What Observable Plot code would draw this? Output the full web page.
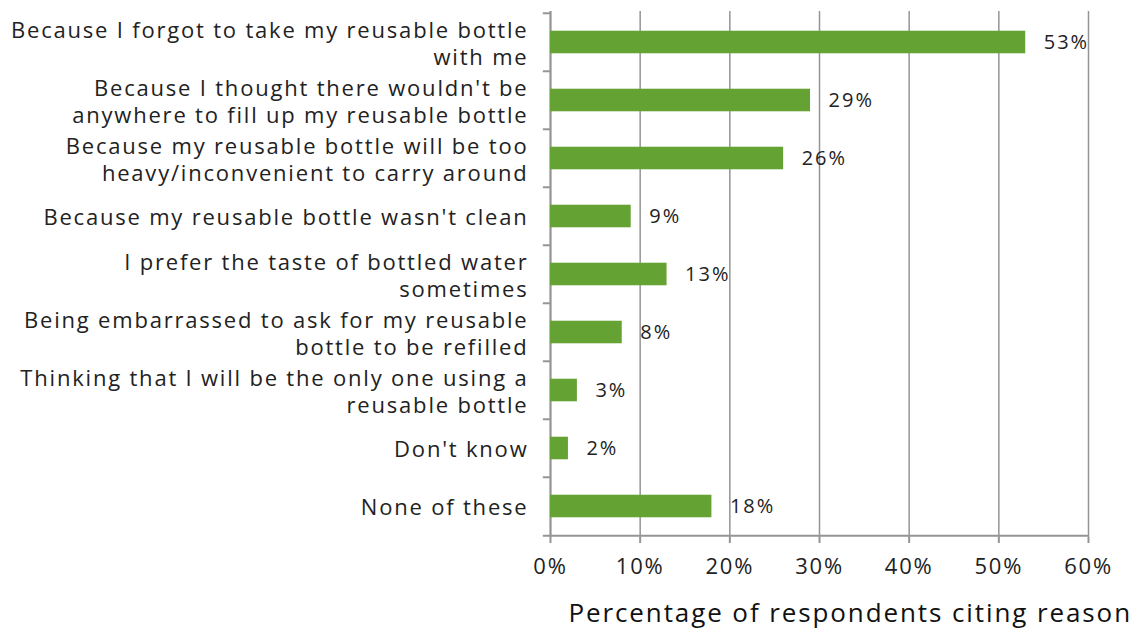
<!DOCTYPE html>
<html>
<head>
<meta charset="utf-8">
<script src="https://cdn.jsdelivr.net/npm/d3@7"></script>
<script src="https://cdn.jsdelivr.net/npm/@observablehq/plot@0.6"></script>
<style>
  html, body { margin: 0; padding: 0; background: #fff; }
  #chart { width: 1134px; height: 630px; font-family: "Open Sans", sans-serif; }
  #chart svg text { letter-spacing: 1.8px; }
  #chart svg g.vals text { letter-spacing: 2px; }
  #xtitle { font-size: 26px; line-height: 32px; height: 32px; margin-top: 13px; text-align: right; padding-right: 2px; color: #111; letter-spacing: 1.9px; white-space: nowrap; }
</style>
</head>
<body>
<div id="chart"></div>
<script>
const categories = [
  "Because I forgot to take my reusable bottle\nwith me",
  "Because I thought there wouldn't be\nanywhere to fill up my reusable bottle",
  "Because my reusable bottle will be too\nheavy/inconvenient to carry around",
  "Because my reusable bottle wasn't clean",
  "I prefer the taste of bottled water\nsometimes",
  "Being embarrassed to ask for my reusable\nbottle to be refilled",
  "Thinking that I will be the only one using a\nreusable bottle",
  "Don't know",
  "None of these"
];
const values = [53, 29, 26, 9, 13, 8, 3, 2, 18];
const xTicks = [0, 10, 20, 30, 40, 50, 60];

const data = categories.map((c, i) => ({category: c, value: values[i]}));

const width = 1134, marginTop = 11, marginBottom = 46, marginLeft = 550, marginRight = 46;
const height = 583;
const step = (height - marginTop - marginBottom) / categories.length;
const barH = 23;
const inset = (step - barH) / 2;
const gray = "#959595";

const plot = Plot.plot({
  width, height, marginTop, marginBottom, marginLeft, marginRight,
  style: {fontFamily: "Open Sans, sans-serif", color: "#222", background: "#fff", overflow: "visible"},
  x: {domain: [0, 60], ticks: xTicks},
  y: {domain: categories, padding: 0},
  marks: [
    Plot.gridX(xTicks, {stroke: gray, strokeOpacity: 1, strokeWidth: 1.5}),
    Plot.ruleX([0], {stroke: gray, strokeWidth: 2}),
    Plot.ruleY(categories, {y: d => d, dy: -step / 2, x1: -0.8, x2: 0, stroke: gray, strokeWidth: 2}),
    Plot.ruleY([categories[categories.length - 1]], {y: d => d, dy: step / 2, x1: -0.8, x2: 60, stroke: gray, strokeWidth: 2}),
    Plot.barX(data, {x: "value", y: "category", fill: "#64a233", insetTop: inset, insetBottom: inset}),
    Plot.text(data, {x: "value", y: "category", text: d => d.value + "%", textAnchor: "start", dx: 18, fontSize: 20, fill: "#222", className: "vals"}),
    Plot.axisX(xTicks, {tickFormat: d => d + "%", tickSize: 6, stroke: gray, strokeWidth: 2, tickPadding: 15, fontSize: 22, label: null, fill: "#222"}),
    Plot.axisY({tickSize: 0, tickPadding: 22, fontSize: 22, lineHeight: 1.23, label: null, fill: "#222"})
  ]
});
const div = document.getElementById("chart");
div.appendChild(plot);
const t = document.createElement("div");
t.id = "xtitle";
t.textContent = "Percentage of respondents citing reason";
div.appendChild(t);
</script>
</body>
</html>
